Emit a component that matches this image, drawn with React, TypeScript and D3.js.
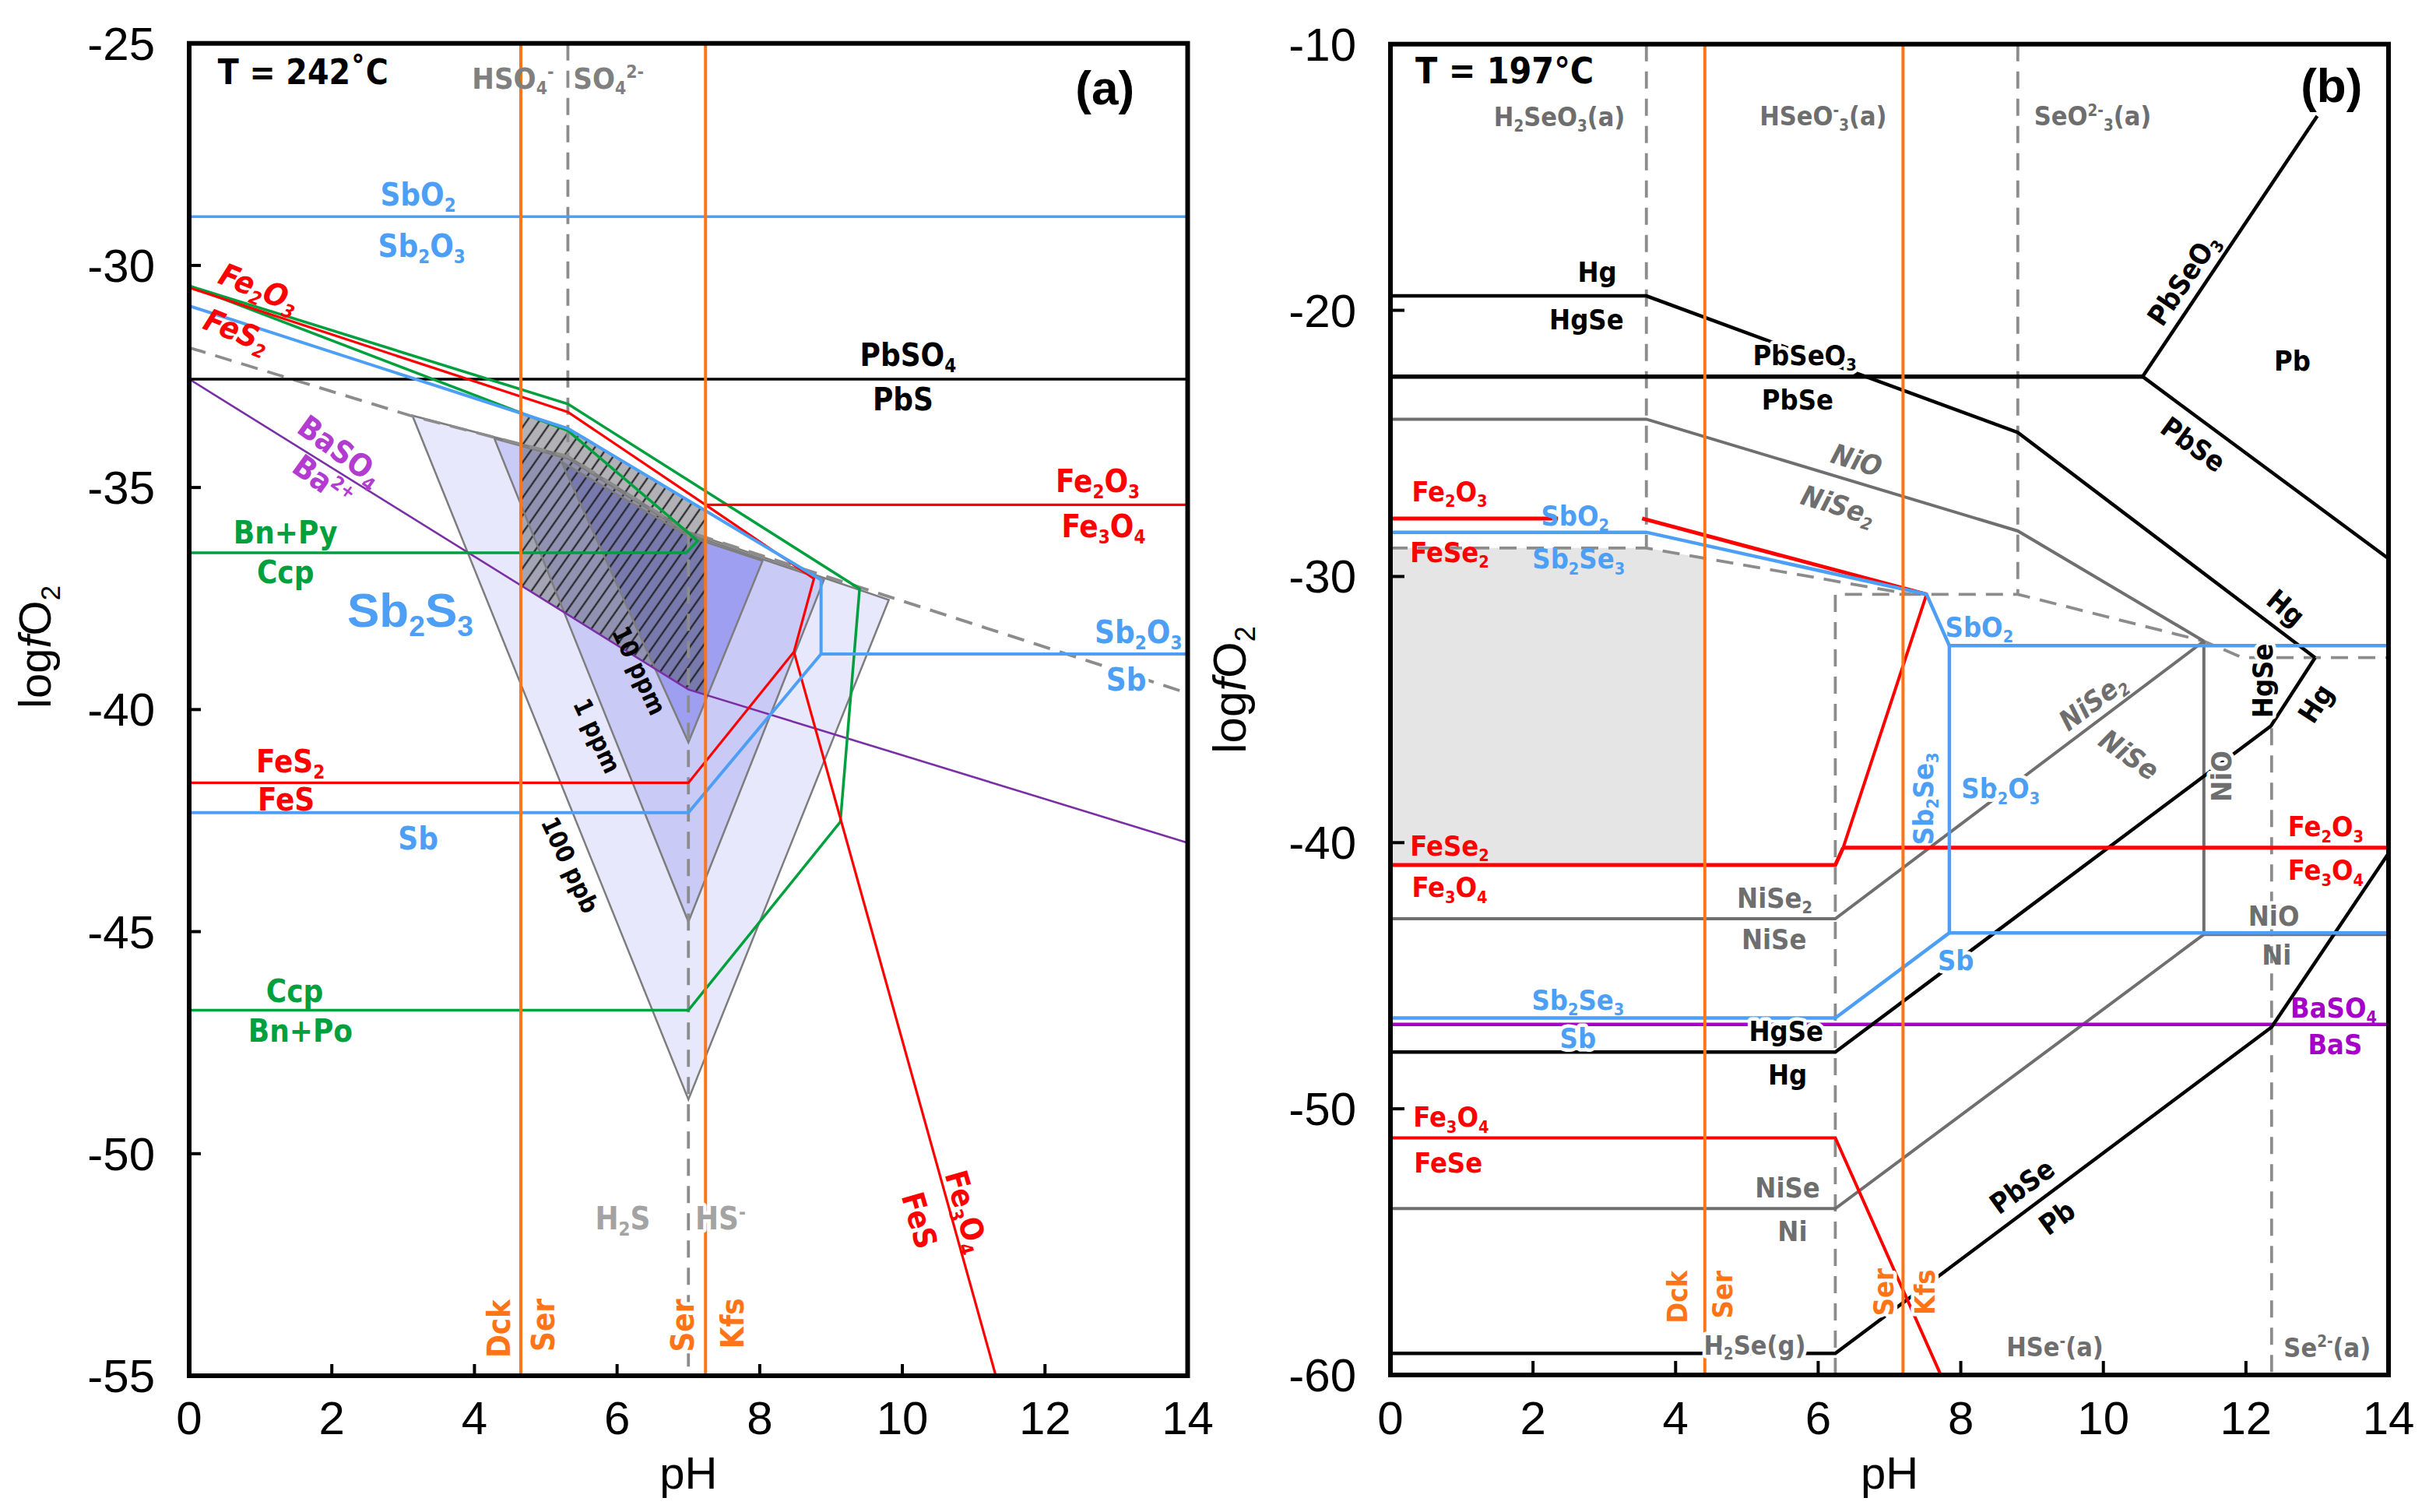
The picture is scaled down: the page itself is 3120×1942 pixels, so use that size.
import React from 'react';
import * as d3 from 'd3';

type Pt = [number, number];

// ---------------- Panel (a): T = 242 °C ----------------
const aPhTicks = [0, 2, 4, 6, 8, 10, 12, 14];
const aLogTicks = [-25, -30, -35, -40, -45, -50, -55];

const aSbO2_Sb2O3: Pt[] = [[0, -28.9], [14, -28.9]];
const aPbSO4_PbS: Pt[] = [[0, -32.56], [14, -32.56]];
const aFe2O3_FeS2: Pt[] = [[0, -30.5], [5.31, -33.3], [7.24, -35.39]];
const aFe2O3_Fe3O4: Pt[] = [[7.24, -35.39], [14, -35.39]];
const aFe3O4_FeS2: Pt[] = [[7.24, -35.39], [8.76, -37.05], [8.48, -38.7]];
const aFeS2_FeS: Pt[] = [[0, -41.65], [7.0, -41.65], [8.48, -38.7]];
const aFe3O4_FeS: Pt[] = [[8.48, -38.7], [11.31, -55]];
const aSb2O3_Sb2S3: Pt[] = [[0, -30.91], [5.31, -33.67], [8.86, -37.08], [8.86, -38.75]];
const aSb2O3_Sb: Pt[] = [[8.86, -38.75], [14, -38.75]];
const aSb2S3_Sb: Pt[] = [[0, -42.32], [7.0, -42.32], [8.86, -38.75]];
const aCuFeS: Pt[] = [[0, -30.46], [5.31, -33.12], [9.4, -37.28], [9.13, -42.53], [7.0, -46.77], [0, -46.77]];
const aBnPy_Ccp: Pt[] = [[0, -30.46], [4.62, -33.3], [5.31, -33.72], [7.13, -36.2], [6.97, -36.47], [0, -36.47]];
const aBaSO4_Ba: Pt[] = [[0, -32.56], [7.0, -39.55], [14, -43.0]];
const aSulfate_Sulfide: Pt[] = [[0, -31.85], [3.1, -33.38], [5.31, -34.3], [7.0, -36.0], [14, -39.63]];
const aHSO4_SO4: Pt[] = [[5.31, -25], [5.31, -34.3]];
const aH2S_HS: Pt[] = [[7.0, -36.0], [7.0, -55]];
const aMineralPh = [4.65, 7.24];
const aSb100ppb: Pt[] = [[3.13, -33.38], [5.31, -34.3], [7.0, -36.0], [9.81, -37.53], [7.0, -48.78]];
const aSb1ppm: Pt[] = [[4.28, -33.9], [5.31, -34.35], [7.0, -36.05], [8.9, -37.08], [7.0, -44.78]];
const aSb10ppm: Pt[] = [[5.22, -34.42], [7.0, -36.1], [8.04, -36.65], [7.0, -40.74]];

// ---------------- Panel (b): T = 197 °C ----------------
const bPhTicks = [0, 2, 4, 6, 8, 10, 12, 14];
const bLogTicks = [-10, -20, -30, -40, -50, -60];

const bHg_HgSe: Pt[] = [[0, -19.46], [3.59, -19.46], [8.8, -24.59], [12.97, -33.05]];
const bPbSeO3_PbSe: Pt[] = [[0, -22.49], [10.55, -22.49]];
const bPbSeO3_Pb: Pt[] = [[10.55, -22.49], [13.0, -12.7]];
const bPbSe_Pb: Pt[] = [[10.55, -22.49], [14, -29.33]];
const bHgSe_Hg: Pt[] = [[0, -47.87], [6.24, -47.87], [12.35, -35.62], [12.97, -33.05]];
const bPbSe_PbLow: Pt[] = [[0, -59.19], [6.24, -59.19], [12.36, -46.93], [14, -40.4]];
const bNiO_NiSe2: Pt[] = [[0, -24.09], [3.59, -24.09], [8.8, -28.29], [11.41, -32.43]];
const bNiO_NiSe: Pt[] = [[11.41, -32.43], [11.41, -43.45], [14, -43.45]];
const bNiSe2_NiSe: Pt[] = [[0, -42.86], [6.24, -42.86], [11.41, -32.43]];
const bNiSe_Ni: Pt[] = [[0, -53.75], [6.24, -53.75], [11.41, -43.45]];
const bFe2O3_FeSe2Left: Pt[] = [[0, -27.82], [2.35, -27.82]];
const bFe2O3_FeSe2Right: Pt[] = [[3.53, -27.82], [7.52, -30.67]];
const bSbO2_Sb2Se3: Pt[] = [[0, -28.34], [3.59, -28.34], [7.52, -30.67], [7.84, -32.6]];
const bSbO2_Sb2O3: Pt[] = [[7.84, -32.6], [14, -32.6]];
const bSb2Se3_Sb2O3: Pt[] = [[7.84, -32.6], [7.84, -43.39]];
const bSb2O3_Sb: Pt[] = [[7.84, -43.39], [14, -43.39]];
const bSb2Se3_Sb: Pt[] = [[0, -46.59], [6.24, -46.59], [7.84, -43.39]];
const bFeSe2_Fe2O3: Pt[] = [[7.52, -30.67], [6.35, -40.19]];
const bFeSe2_Fe3O4: Pt[] = [[0, -40.84], [6.24, -40.84], [6.35, -40.19]];
const bFe2O3_Fe3O4: Pt[] = [[6.35, -40.19], [14, -40.19]];
const bFe3O4_FeSe: Pt[] = [[0, -51.09], [6.24, -51.09], [7.72, -60]];
const bBaSO4_BaS: Pt[] = [[0, -46.83], [14, -46.83]];
const bSelenite_Selenide: Pt[] = [[0, -28.93], [3.59, -28.93], [7.3, -30.67], [8.8, -30.67], [11.41, -32.43], [11.95, -33.05], [14, -33.05]];
const bH2SeO3_HSeO3: Pt[] = [[3.59, -10], [3.59, -28.93]];
const bHSeO3_SeO3: Pt[] = [[8.8, -10], [8.8, -30.67]];
const bHSe_Se: Pt[] = [[12.36, -35.7], [12.36, -60]];
const bH2Se_HSe: Pt[] = [[6.24, -60], [6.24, -30.67], [7.3, -30.67]];
const bMineralPh = [4.41, 7.19];
const bShadeFloor = -40.84;

// ---------------- labels (data coordinates) ----------------
type Lab = { t: string; p: Pt; c?: string; s?: number; r?: number; it?: boolean; halo?: boolean; anchor?: string; wide?: boolean };

const RED = '#ff0000';
const BLUE = '#4c9ff5';
const GREEN = '#00a03e';
const ORANGE = '#ff7417';
const PURPLE_A = '#7a2fa6';
const PURPLE_AT = '#b23bd0';
const PURPLE_B = '#a600c8';
const GRAY_T = '#6e6e6e';
const LGRAY_T = '#a3a3a3';

const aLabels: Lab[] = [
  { t: 'T = 242˚C', p: [0.4, -25.64], s: 44, anchor: 'start' },
  { t: '(a)', p: [12.84, -26.0], s: 62, wide: true },
  { t: 'HSO_4^-', p: [4.54, -25.78], c: '#808080', s: 38 },
  { t: 'SO_4^{2-}', p: [5.88, -25.78], c: '#808080', s: 38 },
  { t: 'SbO_2', p: [3.21, -28.41], c: BLUE },
  { t: 'Sb_2O_3', p: [3.26, -29.57], c: BLUE },
  { t: 'Fe_2O_3', p: [0.98, -30.51], c: RED, r: 22, it: true },
  { t: 'FeS_2', p: [0.67, -31.47], c: RED, r: 22, it: true },
  { t: 'PbSO_4', p: [10.08, -32.02] },
  { t: 'PbS', p: [10.01, -33.02] },
  { t: 'BaSO_4', p: [2.12, -34.17], c: PURPLE_AT, r: 36 },
  { t: 'Ba^{2+}', p: [1.88, -34.86], c: PURPLE_AT, r: 36 },
  { t: 'Bn+Py', p: [1.35, -36.01], c: GREEN },
  { t: 'Ccp', p: [1.35, -36.91], c: GREEN },
  { t: 'Sb_2S_3', p: [3.1, -37.75], c: BLUE, s: 62, wide: true },
  { t: '10 ppm', p: [6.31, -39.12], s: 32, r: 65 },
  { t: '1 ppm', p: [5.72, -40.59], s: 32, r: 65 },
  { t: '100 ppb', p: [5.34, -43.5], s: 32, r: 65 },
  { t: 'Fe_2O_3', p: [12.74, -34.86], c: RED },
  { t: 'Fe_3O_4', p: [12.82, -35.87], c: RED },
  { t: 'Sb_2O_3', p: [13.31, -38.26], c: BLUE },
  { t: 'Sb', p: [13.14, -39.33], c: BLUE, halo: true },
  { t: 'FeS_2', p: [1.42, -41.17], c: RED },
  { t: 'FeS', p: [1.36, -42.03], c: RED },
  { t: 'Sb', p: [3.21, -42.9], c: BLUE },
  { t: 'Ccp', p: [1.48, -46.34], c: GREEN },
  { t: 'Bn+Po', p: [1.56, -47.23], c: GREEN },
  { t: 'H_2S', p: [6.08, -51.46], c: LGRAY_T },
  { t: 'HS^-', p: [7.45, -51.46], c: LGRAY_T, halo: true },
  { t: 'Dck', p: [4.34, -53.94], c: ORANGE, r: -90 },
  { t: 'Ser', p: [4.97, -53.86], c: ORANGE, r: -90 },
  { t: 'Ser', p: [6.92, -53.87], c: ORANGE, r: -90, halo: true },
  { t: 'Kfs', p: [7.62, -53.82], c: ORANGE, r: -90 },
  { t: 'Fe_3O_4', p: [10.9, -51.3], c: RED, r: 74 },
  { t: 'FeS', p: [10.24, -51.5], c: RED, r: 74 },
];

const bLabels: Lab[] = [
  { t: 'T = 197°C', p: [0.35, -11.0], s: 46, anchor: 'start' },
  { t: '(b)', p: [13.2, -11.53], s: 62, wide: true },
  { t: 'H_2SeO_3(a)', p: [2.37, -12.73], c: GRAY_T, s: 34 },
  { t: 'HSeO^-_3(a)', p: [6.07, -12.7], c: GRAY_T, s: 34 },
  { t: 'SeO^{2-}_3(a)', p: [9.85, -12.7], c: GRAY_T, s: 34 },
  { t: 'Hg', p: [2.9, -18.56] },
  { t: 'HgSe', p: [2.75, -20.35] },
  { t: 'PbSeO_3', p: [5.81, -21.68], halo: true },
  { t: 'PbSe', p: [5.71, -23.35] },
  { t: 'NiO', p: [6.54, -25.63], c: GRAY_T, r: 17, it: true },
  { t: 'NiSe_2', p: [6.28, -27.32], c: GRAY_T, r: 17, it: true },
  { t: 'PbSeO_3', p: [11.12, -18.84], r: -56 },
  { t: 'Pb', p: [12.65, -21.91] },
  { t: 'PbSe', p: [11.26, -25.04], r: 36 },
  { t: 'Hg', p: [12.56, -31.18], r: 40 },
  { t: 'Fe_2O_3', p: [0.83, -26.8], c: RED },
  { t: 'SbO_2', p: [2.59, -27.72], c: BLUE },
  { t: 'FeSe_2', p: [0.83, -29.08], c: RED },
  { t: 'Sb_2Se_3', p: [2.64, -29.34], c: BLUE },
  { t: 'SbO_2', p: [8.26, -31.9], c: BLUE },
  { t: 'NiSe_2', p: [9.85, -34.7], c: GRAY_T, r: -37, it: true },
  { t: 'NiSe', p: [10.36, -36.7], c: GRAY_T, r: 35, it: true },
  { t: 'HgSe', p: [12.23, -33.92], r: -90, halo: true },
  { t: 'Hg', p: [12.98, -34.77], r: -57 },
  { t: 'Sb_2Se_3', p: [7.47, -38.35], c: BLUE, r: -90 },
  { t: 'Sb_2O_3', p: [8.56, -37.97], c: BLUE, halo: true },
  { t: 'NiO', p: [11.66, -37.51], c: GRAY_T, r: -90, halo: true },
  { t: 'FeSe_2', p: [0.83, -40.12], c: RED },
  { t: 'Fe_3O_4', p: [0.83, -41.68], c: RED },
  { t: 'Fe_2O_3', p: [13.12, -39.4], c: RED },
  { t: 'Fe_3O_4', p: [13.12, -41.04], c: RED },
  { t: 'NiSe_2', p: [5.39, -42.08], c: GRAY_T },
  { t: 'NiSe', p: [5.38, -43.64], c: GRAY_T },
  { t: 'NiO', p: [12.39, -42.74], c: GRAY_T, halo: true },
  { t: 'Ni', p: [12.43, -44.23], c: GRAY_T },
  { t: 'Sb', p: [7.93, -44.43], c: BLUE, halo: true },
  { t: 'Sb_2Se_3', p: [2.63, -45.9], c: BLUE },
  { t: 'Sb', p: [2.63, -47.36], c: BLUE, halo: true },
  { t: 'HgSe', p: [5.55, -47.07], halo: true },
  { t: 'Hg', p: [5.57, -48.71] },
  { t: 'BaSO_4', p: [13.23, -46.19], c: PURPLE_B },
  { t: 'BaS', p: [13.25, -47.59], c: PURPLE_B },
  { t: 'Fe_3O_4', p: [0.85, -50.31], c: RED },
  { t: 'FeSe', p: [0.81, -52.03], c: RED },
  { t: 'NiSe', p: [5.57, -52.97], c: GRAY_T },
  { t: 'Ni', p: [5.64, -54.61], c: GRAY_T },
  { t: 'PbSe', p: [8.86, -52.91], r: -36 },
  { t: 'Pb', p: [9.35, -54.09], r: -36 },
  { t: 'Dck', p: [4.02, -57.07], c: ORANGE, r: -90 },
  { t: 'Ser', p: [4.66, -56.98], c: ORANGE, r: -90 },
  { t: 'Ser', p: [6.92, -56.89], c: ORANGE, r: -90, halo: true },
  { t: 'Kfs', p: [7.5, -56.89], c: ORANGE, r: -90, halo: true },
  { t: 'H_2Se(g)', p: [5.11, -58.88], c: GRAY_T, s: 34, halo: true },
  { t: 'HSe^-(a)', p: [9.32, -58.96], c: GRAY_T, s: 34 },
  { t: 'Se^{2-}(a)', p: [13.14, -58.97], c: GRAY_T, s: 34 },
];

// ---------------- helpers ----------------
const NARROW = "'Liberation Sans Narrow','Arial Narrow','DejaVu Sans Condensed',sans-serif";
const SANS = "'Liberation Sans',Arial,Helvetica,sans-serif";

function parse(t: string) {
  const out: { txt: string; k: number }[] = [];
  let i = 0;
  let buf = '';
  const flush = () => { if (buf) { out.push({ txt: buf, k: 0 }); buf = ''; } };
  while (i < t.length) {
    const ch = t[i];
    if (ch === '_' || ch === '^') {
      flush();
      const k = ch === '_' ? -1 : 1;
      let s = '';
      if (t[i + 1] === '{') {
        const j = t.indexOf('}', i + 2);
        s = t.slice(i + 2, j);
        i = j + 1;
      } else {
        s = t[i + 1];
        i += 2;
      }
      out.push({ txt: s, k });
    } else {
      buf += ch;
      i++;
    }
  }
  flush();
  return out;
}

function interp(line: Pt[], x: number): number {
  for (let i = 0; i < line.length - 1; i++) {
    const [x0, y0] = line[i];
    const [x1, y1] = line[i + 1];
    if (x0 !== x1 && x >= Math.min(x0, x1) && x <= Math.max(x0, x1)) {
      return y0 + ((y1 - y0) * (x - x0)) / (x1 - x0);
    }
  }
  return line[line.length - 1][1];
}

function band(top: Pt[], bottom: Pt[], lo: number, hi: number): Pt[] {
  const xs = new Set<number>([lo, hi]);
  [...top, ...bottom].forEach(([x]) => { if (x > lo && x < hi) xs.add(x); });
  const sorted = Array.from(xs).sort((a, b) => a - b);
  const upper = sorted.map((x) => [x, interp(top, x)] as Pt);
  const lower = sorted.slice().reverse().map((x) => [x, interp(bottom, x)] as Pt);
  return [...upper, ...lower];
}

function Label({ l, sx, sy, def }: { l: Lab; sx: any; sy: any; def: number }) {
  const s = l.s ?? def;
  const segs = parse(l.t);
  let cur = 0;
  const spans = segs.map((g, i) => {
    const target = g.k === 1 ? -0.36 * s : g.k === -1 ? 0.2 * s : 0;
    const dy = target - cur;
    cur = target;
    return (
      <tspan key={i} dy={dy} fontSize={g.k ? s * 0.6 : s}>
        {g.txt}
      </tspan>
    );
  });
  const x = sx(l.p[0]);
  const y = sy(l.p[1]);
  return (
    <text
      transform={`translate(${x},${y}) rotate(${l.r || 0})`}
      y={0.35 * s}
      fontFamily={l.wide ? SANS : NARROW}
      fontWeight="bold"
      fontStyle={l.it ? 'italic' : 'normal'}
      fontSize={s}
      fill={l.c || '#000'}
      textAnchor={l.anchor || 'middle'}
      stroke={l.halo ? '#fff' : 'none'}
      strokeWidth={l.halo ? 9 : 0}
      strokeLinejoin="round"
      paintOrder="stroke"
    >
      {spans}
    </text>
  );
}

type LineSpec = { d: Pt[]; c: string; w: number; dash?: string };

function Axes({ sx, sy, xt, yt, tickLen }: { sx: any; sy: any; xt: number[]; yt: number[]; tickLen: number }) {
  const [x0, x1] = sx.range();
  const [y0, y1] = sy.range();
  return (
    <g>
      {xt.slice(1, -1).map((t) => (
        <line key={'xt' + t} x1={sx(t)} x2={sx(t)} y1={y0} y2={y0 - tickLen} stroke="#000" strokeWidth={4} />
      ))}
      {yt.slice(1, -1).map((t) => (
        <line key={'yt' + t} x1={x0} x2={x0 + tickLen} y1={sy(t)} y2={sy(t)} stroke="#000" strokeWidth={4} />
      ))}
      <rect x={x0} y={y1} width={x1 - x0} height={y0 - y1} fill="none" stroke="#000" strokeWidth={6} />
      {xt.map((t) => (
        <text key={'xl' + t} x={sx(t)} y={1842} textAnchor="middle" fontFamily={SANS} fontSize={60} fill="#000">
          {t}
        </text>
      ))}
      {yt.map((t) => (
        <text key={'yl' + t} x={x0 - 44} y={sy(t) + 21} textAnchor="end" fontFamily={SANS} fontSize={60} fill="#000">
          {t}
        </text>
      ))}
      <text x={(x0 + x1) / 2} y={1912} textAnchor="middle" fontFamily={SANS} fontSize={58} fill="#000">
        pH
      </text>
    </g>
  );
}

function YTitle({ x, y, s }: { x: number; y: number; s: number }) {
  return (
    <text transform={`translate(${x},${y}) rotate(-90)`} textAnchor="middle" fontFamily={SANS} fontSize={s} fill="#000">
      <tspan>log</tspan>
      <tspan fontStyle="italic">f</tspan>
      <tspan>O</tspan>
      <tspan fontSize={s * 0.6} dy={s * 0.2}>2</tspan>
    </text>
  );
}

export default function App() {
  const ax = d3.scaleLinear().domain([0, 14]).range([243, 1525.5]);
  const ay = d3.scaleLinear().domain([-55, -25]).range([1767, 55.7]);
  const bx = d3.scaleLinear().domain([0, 14]).range([1786, 3068]);
  const by = d3.scaleLinear().domain([-60, -10]).range([1766, 56.7]);

  const aLine = d3.line<Pt>().x((d) => ax(d[0])).y((d) => ay(d[1]));
  const bLine = d3.line<Pt>().x((d) => bx(d[0])).y((d) => by(d[1]));

  const DASH = '22 13';
  const DASHC = '#8c8c8c';
  const aLines: LineSpec[] = [
    { d: aSulfate_Sulfide, c: DASHC, w: 3.8, dash: DASH },
    { d: aHSO4_SO4, c: DASHC, w: 3.8, dash: DASH },
    { d: aH2S_HS, c: DASHC, w: 3.8, dash: DASH },
    { d: aBaSO4_Ba, c: PURPLE_A, w: 2.6 },
    { d: aPbSO4_PbS, c: '#000', w: 3.5 },
    { d: aSbO2_Sb2O3, c: BLUE, w: 3.5 },
    { d: aCuFeS, c: GREEN, w: 3.5 },
    { d: aBnPy_Ccp, c: GREEN, w: 3.5 },
    { d: aFe2O3_FeS2, c: RED, w: 3.2 },
    { d: aFe2O3_Fe3O4, c: RED, w: 3.2 },
    { d: aFe3O4_FeS2, c: RED, w: 3.2 },
    { d: aFeS2_FeS, c: RED, w: 3.2 },
    { d: aFe3O4_FeS, c: RED, w: 3.2 },
    { d: aSb2O3_Sb2S3, c: BLUE, w: 4 },
    { d: aSb2O3_Sb, c: BLUE, w: 4 },
    { d: aSb2S3_Sb, c: BLUE, w: 4 },
  ];

  const bLines: LineSpec[] = [
    { d: bSelenite_Selenide, c: DASHC, w: 3.8, dash: DASH },
    { d: bH2SeO3_HSeO3, c: DASHC, w: 3.8, dash: DASH },
    { d: bHSeO3_SeO3, c: DASHC, w: 3.8, dash: DASH },
    { d: bHSe_Se, c: DASHC, w: 3.8, dash: DASH },
    { d: bH2Se_HSe, c: DASHC, w: 3.8, dash: DASH },
    { d: bNiO_NiSe2, c: '#6f6f6f', w: 4 },
    { d: bNiO_NiSe, c: '#6f6f6f', w: 4 },
    { d: bNiSe2_NiSe, c: '#6f6f6f', w: 4 },
    { d: bNiSe_Ni, c: '#6f6f6f', w: 4 },
    { d: bBaSO4_BaS, c: PURPLE_B, w: 4.5 },
    { d: bHg_HgSe, c: '#000', w: 4.5 },
    { d: bPbSeO3_PbSe, c: '#000', w: 5.5 },
    { d: bPbSeO3_Pb, c: '#000', w: 4.5 },
    { d: bPbSe_Pb, c: '#000', w: 4.5 },
    { d: bHgSe_Hg, c: '#000', w: 4.5 },
    { d: bPbSe_PbLow, c: '#000', w: 4.5 },
    { d: bFe2O3_FeSe2Left, c: RED, w: 5 },
    { d: bFe2O3_FeSe2Right, c: RED, w: 5 },
    { d: bFeSe2_Fe2O3, c: RED, w: 4 },
    { d: bFeSe2_Fe3O4, c: RED, w: 5 },
    { d: bFe2O3_Fe3O4, c: RED, w: 5 },
    { d: bFe3O4_FeSe, c: RED, w: 4 },
    { d: bSbO2_Sb2Se3, c: BLUE, w: 4.5 },
    { d: bSbO2_Sb2O3, c: BLUE, w: 4.5 },
    { d: bSb2Se3_Sb2O3, c: BLUE, w: 4.5 },
    { d: bSb2O3_Sb, c: BLUE, w: 4.5 },
    { d: bSb2Se3_Sb, c: BLUE, w: 4.5 },
  ];

  const hatch = band(aSb2O3_Sb2S3.slice(0, 3), aBaSO4_Ba, aMineralPh[0], aMineralPh[1]);
  const shade = band(bSelenite_Selenide, [[0, bShadeFloor], [14, bShadeFloor]], 0, bMineralPh[0]);

  const poly = (pts: Pt[], sx: any, sy: any) => pts.map((p) => `${sx(p[0])},${sy(p[1])}`).join(' ');

  return (
    <svg width={3120} height={1942} style={{ position: 'absolute', left: 0, top: 0, background: '#fff' }}>
      <defs>
        <pattern id="hatch" patternUnits="userSpaceOnUse" width={13} height={13} patternTransform="rotate(35)">
          <line x1={6.5} y1={0} x2={6.5} y2={13} stroke="#1a1a1a" strokeWidth={2} />
        </pattern>
        <clipPath id="clipA">
          <rect x={243} y={55.7} width={1282.5} height={1711.3} />
        </clipPath>
        <clipPath id="clipB">
          <rect x={1786} y={56.7} width={1282} height={1709.3} />
        </clipPath>
      </defs>
      <rect x={0} y={0} width={3120} height={1942} fill="#fff" />

      {/* ---------- Panel (a) ---------- */}
      <g clipPath="url(#clipA)">
        <polygon points={poly(aSb100ppb, ax, ay)} fill="#e7e8fb" />
        <polygon points={poly(aSb1ppm, ax, ay)} fill="#c9caf6" />
        <polygon points={poly(aSb10ppm, ax, ay)} fill="#9e9ff0" />
        <polygon points={poly(hatch, ax, ay)} fill="rgba(70,70,80,0.42)" />
        <polygon points={poly(hatch, ax, ay)} fill="url(#hatch)" />
        <polygon points={poly(aSb100ppb, ax, ay)} fill="none" stroke="#7d7d7d" strokeWidth={2.5} />
        <polygon points={poly(aSb1ppm, ax, ay)} fill="none" stroke="#7d7d7d" strokeWidth={2.5} />
        <polygon points={poly(aSb10ppm, ax, ay)} fill="none" stroke="#7d7d7d" strokeWidth={2.5} />
        {aLines.map((l, i) => (
          <path key={i} d={aLine(l.d) || ''} fill="none" stroke={l.c} strokeWidth={l.w} strokeDasharray={l.dash} strokeLinejoin="miter" />
        ))}
        {aMineralPh.map((p) => (
          <line key={p} x1={ax(p)} x2={ax(p)} y1={ay(-25)} y2={ay(-55)} stroke={ORANGE} strokeWidth={4} />
        ))}
        {aLabels.map((l, i) => (
          <Label key={i} l={l} sx={ax} sy={ay} def={40} />
        ))}
      </g>
      <Axes sx={ax} sy={ay} xt={aPhTicks} yt={aLogTicks} tickLen={15} />
      <YTitle x={65} y={831} s={58} />

      {/* ---------- Panel (b) ---------- */}
      <g clipPath="url(#clipB)">
        <polygon points={poly(shade, bx, by)} fill="#e5e5e5" />
        {bLines.map((l, i) => (
          <path key={i} d={bLine(l.d) || ''} fill="none" stroke={l.c} strokeWidth={l.w} strokeDasharray={l.dash} strokeLinejoin="miter" />
        ))}
        {bMineralPh.map((p) => (
          <line key={p} x1={bx(p)} x2={bx(p)} y1={by(-10)} y2={by(-60)} stroke={ORANGE} strokeWidth={4} />
        ))}
        {bLabels.map((l, i) => (
          <Label key={i} l={l} sx={bx} sy={by} def={36} />
        ))}
      </g>
      <Axes sx={bx} sy={by} xt={bPhTicks} yt={bLogTicks} tickLen={18} />
      <YTitle x={1600} y={886} s={60} />
    </svg>
  );
}
